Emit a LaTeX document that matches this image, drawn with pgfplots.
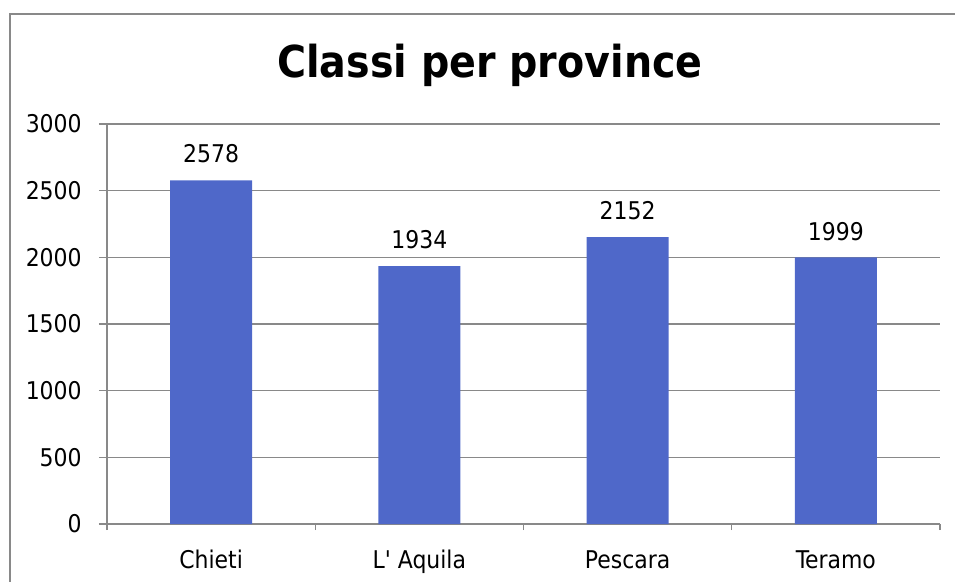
\documentclass[border=0pt]{standalone}
\usepackage{fontspec}
\setmainfont{DejaVu Sans Condensed}
\usepackage{pgfplots}
\pgfplotsset{compat=1.18}

\definecolor{barblue}{HTML}{4F68C9}
\definecolor{linegray}{HTML}{898989}

\begin{document}
\begin{tikzpicture}
% canvas 955 x 581 px, 1px = 0.75pt; axis south west at px (107,57)
\path[use as bounding box] (-80.25pt,-42.75pt) rectangle (636pt,393pt);
\draw[linegray,line width=1.5pt] (-72.75pt,-50pt) -- (-72.75pt,382.5pt) -- (640pt,382.5pt);
\node[anchor=base,font=\bfseries\fontsize{33}{38}\selectfont] at (287.25pt,334.5pt) {Classi per province};
\begin{axis}[
  at={(0pt,0pt)},anchor=south west,
  scale only axis,width=624.75pt,height=300pt,
  xmin=-0.5,xmax=3.5,ymin=0,ymax=3000,
  axis lines=left,axis line style={-,linegray,line width=1pt},
  ytick={0,500,...,3000},
  xtick={0,1,2,3},
  xticklabels={Chieti,L\textquotesingle{} Aquila,Pescara,Teramo},
  minor xtick={-0.5,0.5,1.5,2.5,3.5},
  major x tick style={draw=none},
  tick align=outside,
  major tick length=6pt,minor tick length=4.5pt,
  every tick/.style={linegray,line width=1pt},
  ymajorgrids,grid style={linegray,line width=1pt},
  ticklabel style={font=\fontsize{18.3}{21}\selectfont},
  /pgf/number format/assume math mode=true,
  /pgf/number format/1000 sep={},
  yticklabel style={anchor=east,xshift=-9.5pt},
  xticklabel style={anchor=base,yshift=-27pt},
  ybar,bar width=61.5pt,
  nodes near coords,
  every node near coord/.append style={font=\fontsize{18.3}{21}\selectfont,anchor=base,yshift=13pt,black},
  clip=false,
]
\addplot[fill=barblue,draw=none] coordinates {(0,2578) (1,1934) (2,2152) (3,1999)};
\end{axis}
\end{tikzpicture}
\end{document}
